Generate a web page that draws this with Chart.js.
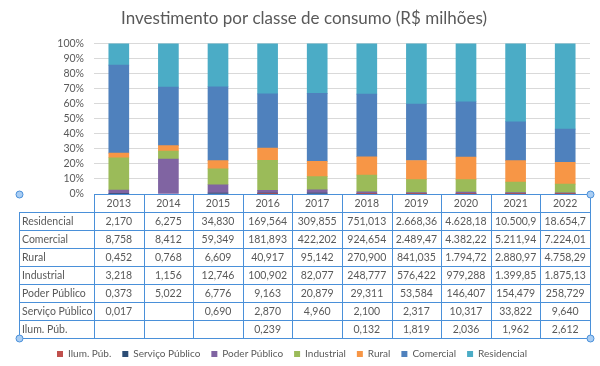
<!DOCTYPE html>
<html><head><meta charset="utf-8">
<script src="https://cdn.jsdelivr.net/npm/chart.js@4/dist/chart.umd.min.js"></script>
<style>html,body{margin:0;padding:0;background:#fff;overflow:hidden}#wrap{width:600px;height:366px;position:relative}</style>
</head><body><div id="wrap"><canvas id="c" width="600" height="366"></canvas></div>
<script>
const titleText = 'Investimento por classe de consumo (R$ milhões)';
const years = ['2013','2014','2015','2016','2017','2018','2019','2020','2021','2022'];
const residencial = [2.170, 6.275, 34.830, 169.564, 309.855, 751.013, 2668.36, 4628.18, 10500.9, 18654.7];
const comercial = [8.758, 8.412, 59.349, 181.893, 422.202, 924.654, 2489.47, 4382.22, 5211.94, 7224.01];
const rural = [0.452, 0.768, 6.609, 40.917, 95.142, 270.900, 841.035, 1794.72, 2880.97, 4758.29];
const industrial = [3.218, 1.156, 12.746, 100.902, 82.077, 248.777, 576.422, 979.288, 1399.85, 1875.13];
const poderPublico = [0.373, 5.022, 6.776, 9.163, 20.879, 29.311, 53.584, 146.407, 154.479, 258.729];
const servicoPublico = [0.017, null, 0.690, 2.870, 4.960, 2.100, 2.317, 10.317, 33.822, 9.640];
const ilumPub = [null, null, null, 0.239, null, 0.132, 1.819, 2.036, 1.962, 2.612];
const yTickValues = [0,10,20,30,40,50,60,70,80,90,100];

const seriesNames = ['Ilum. Púb.','Serviço Público','Poder Público','Industrial','Rural','Comercial','Residencial'];
const seriesData = [ilumPub, servicoPublico, poderPublico, industrial, rural, comercial, residencial];
const seriesColors = ['#C0504D','#2C4D75','#8064A2','#9BBB59','#F79646','#4F81BD','#4BACC6'];

const totals = years.map((_, i) => seriesData.reduce((s, arr) => s + (arr[i] || 0), 0));
const pct = arr => arr.map((v, i) => v == null ? null : v / totals[i] * 100);

function fmt(v){
  if (v == null) return '';
  if (v >= 1000){
    const intDigits = String(Math.floor(v)).length;
    const dec = Math.max(0, 6 - intDigits);
    const s = v.toFixed(dec);
    let [ip, dp] = s.split('.');
    ip = ip.replace(/\B(?=(\d{3})+(?!\d))/g, '.');
    return dp ? ip + ',' + dp : ip;
  }
  return v.toFixed(3).replace('.', ',');
}

const FONT = 'Lato';
const TEXT = '#595959';
const LINE = '#4A90D9';

const shiftPlugin = {
  id: 'shiftBlocks',
  afterLayout(chart){
    if (chart.titleBlock){ chart.titleBlock.left += 9; chart.titleBlock.right += 9; }
    if (chart.legend){ chart.legend.left -= 3; chart.legend.right -= 3; }
  }
};

const tablePlugin = {
  id: 'dataTable',
  afterDraw(chart){
    const ctx = chart.ctx;
    const xs = chart.scales.x;
    const top = Math.round(chart.chartArea.bottom);
    const n = years.length;
    const w = (xs.right - xs.left) / n;
    const tableLeft = 19;
    const headH = 18, rowH = 18;
    const rows = seriesNames.length;
    const bottom = top + headH + rows * rowH;
    ctx.save();
    ctx.strokeStyle = LINE;
    ctx.lineWidth = 1;
    ctx.beginPath();
    ctx.moveTo(xs.left, top + 0.5); ctx.lineTo(xs.right, top + 0.5);
    for (let k = 0; k <= n; k++){
      const x = Math.round(xs.left + k * w) + 0.5;
      ctx.moveTo(x, top); ctx.lineTo(x, bottom + 1);
    }
    for (let r = 0; r <= rows; r++){
      const y = top + headH + r * rowH + 0.5;
      ctx.moveTo(tableLeft, y); ctx.lineTo(xs.right + 1, y);
    }
    ctx.moveTo(tableLeft + 0.5, top + headH); ctx.lineTo(tableLeft + 0.5, bottom + 1);
    ctx.stroke();

    ctx.fillStyle = TEXT;
    ctx.font = '10.5px ' + FONT;
    ctx.textBaseline = 'middle';
    for (let r = 0; r < rows; r++){
      const si = rows - 1 - r;
      const yc = top + headH + r * rowH + rowH / 2 + 1;
      ctx.textAlign = 'left';
      ctx.fillText(seriesNames[si], tableLeft + 3, yc);
      ctx.textAlign = 'center';
      for (let i = 0; i < n; i++){
        const t = fmt(seriesData[si][i]);
        if (t) ctx.fillText(t, xs.getPixelForValue(i), yc);
      }
    }
    const handles = [[tableLeft, top], [xs.right, top], [tableLeft, bottom], [xs.right, bottom]];
    handles.forEach(([hx, hy]) => {
      ctx.beginPath();
      ctx.arc(hx + 0.5, hy + 0.5, 3.5, 0, Math.PI * 2);
      ctx.fillStyle = '#A9CDF3';
      ctx.fill();
      ctx.strokeStyle = LINE;
      ctx.stroke();
    });
    ctx.restore();
  }
};

new Chart(document.getElementById('c'), {
  type: 'bar',
  data: {
    labels: years,
    datasets: seriesNames.map((name, k) => ({
      label: name,
      data: pct(seriesData[k]),
      backgroundColor: seriesColors[k],
      borderWidth: 0,
      barThickness: 20
    }))
  },
  options: {
    responsive: false,
    animation: false,
    events: [],
    devicePixelRatio: 1,
    layout: { padding: { left: 0, right: 10, top: 0, bottom: -3 } },
    plugins: {
      title: {
        display: true, text: titleText, color: TEXT,
        font: { family: FONT, size: 17, weight: 'normal' },
        padding: { top: 8, bottom: 15 }
      },
      legend: {
        position: 'bottom',
        labels: { boxWidth: 6, boxHeight: 6, color: TEXT, padding: 11, font: { family: FONT, size: 10 } }
      },
      tooltip: { enabled: false }
    },
    scales: {
      x: {
        stacked: true,
        grid: { display: false, drawTicks: false },
        border: { display: false },
        ticks: { color: TEXT, font: { family: FONT, size: 10.5 }, padding: 3 },
        afterFit(s){ s.height = 144; }
      },
      y: {
        stacked: true, min: 0, max: 100,
        afterBuildTicks(s){ s.ticks = yTickValues.map(v => ({ value: v })); },
        ticks: { color: TEXT, font: { family: FONT, size: 10.5 }, padding: 10, autoSkip: false, callback: v => v + '%' },
        grid: { color: '#D9D9D9', drawTicks: false },
        border: { display: false },
        afterFit(s){ s.width = 94; }
      }
    }
  },
  plugins: [shiftPlugin, tablePlugin]
});
</script>
</body></html>
